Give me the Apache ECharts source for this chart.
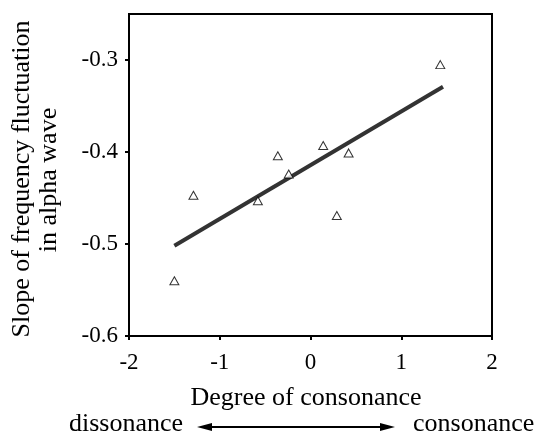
<!DOCTYPE html>
<html>
<head>
<meta charset="utf-8">
<script src="https://cdn.jsdelivr.net/npm/echarts@6/dist/echarts.min.js"></script>
<style>html,body{margin:0;padding:0;background:#fff}#c{width:540px;height:439px}</style>
</head>
<body>
<div id="c"></div>
<script>
var pointsX = [-1.50, -1.29, -0.58, -0.24, -0.36, 0.14, 0.42, 0.29, 1.43];
var pointsY = [-0.540, -0.447, -0.453, -0.424, -0.404, -0.393, -0.401, -0.469, -0.305];
var fitX = [-1.50, 1.46];
var fitY = [-0.502, -0.329];
var xTicks = [-2, -1, 0, 1, 2];
var yTicks = [-0.6, -0.5, -0.4, -0.3];
var xTitle = 'Degree of consonance';
var yTitle1 = 'Slope of frequency fluctuation';
var yTitle2 = 'in alpha wave';
var leftLabel = 'dissonance';
var rightLabel = 'consonance';

var font = '"Liberation Serif", "Times New Roman", serif';
var chart = echarts.init(document.getElementById('c'));
var scatterData = pointsX.map(function (x, i) { return [x, pointsY[i]]; });
var fitData = fitX.map(function (x, i) { return [x, fitY[i]]; });

chart.setOption({
  animation: false,
  backgroundColor: '#fff',
  grid: { left: 129, right: 48, top: 14, bottom: 103, show: true, borderColor: '#000', borderWidth: 2 },
  xAxis: {
    type: 'value', min: -2, max: 2, interval: 1,
    axisLine: { show: true, onZero: false, lineStyle: { color: '#000', width: 2 } },
    axisTick: { show: true, length: 4, lineStyle: { color: '#000', width: 2 }, customValues: xTicks },
    axisLabel: { color: '#000', fontFamily: font, fontSize: 23, margin: 15, customValues: xTicks },
    splitLine: { show: false }
  },
  yAxis: {
    type: 'value', min: -0.6, max: -0.25,
    axisLine: { show: true, onZero: false, lineStyle: { color: '#000', width: 2 } },
    axisTick: { show: true, length: 4, lineStyle: { color: '#000', width: 2 }, customValues: yTicks },
    axisLabel: { color: '#000', fontFamily: font, fontSize: 23, margin: 11, customValues: yTicks,
      formatter: function (v) { return (Math.round(v * 10) / 10).toFixed(1); } },
    splitLine: { show: false }
  },
  series: [
    {
      type: 'line', data: fitData, symbol: 'none', silent: true,
      lineStyle: { color: '#333', width: 4 }, z: 2
    },
    {
      type: 'scatter', data: scatterData, symbol: 'triangle', symbolSize: [9, 8],
      itemStyle: { color: '#fff', borderColor: '#000', borderWidth: 1 }, z: 3
    }
  ],
  graphic: [
    { type: 'text', x: 22, y: 179, rotation: Math.PI / 2,
      style: { text: yTitle1, font: '26px ' + font, fill: '#000', align: 'center', verticalAlign: 'middle' } },
    { type: 'text', x: 49, y: 180, rotation: Math.PI / 2,
      style: { text: yTitle2, font: '26px ' + font, fill: '#000', align: 'center', verticalAlign: 'middle' } },
    { type: 'text', x: 306, y: 398,
      style: { text: xTitle, font: '26px ' + font, fill: '#000', align: 'center', verticalAlign: 'middle' } },
    { type: 'text', x: 183, y: 424,
      style: { text: leftLabel, font: '26px ' + font, fill: '#000', align: 'right', verticalAlign: 'middle' } },
    { type: 'text', x: 413, y: 424,
      style: { text: rightLabel, font: '26px ' + font, fill: '#000', align: 'left', verticalAlign: 'middle' } },
    { type: 'line', shape: { x1: 205, y1: 427, x2: 387, y2: 427 }, style: { stroke: '#000', lineWidth: 2 } },
    { type: 'polygon', shape: { points: [[197, 427], [212, 423], [212, 431]] }, style: { fill: '#000' } },
    { type: 'polygon', shape: { points: [[395, 427], [380, 423], [380, 431]] }, style: { fill: '#000' } }
  ]
});
</script>
</body>
</html>
